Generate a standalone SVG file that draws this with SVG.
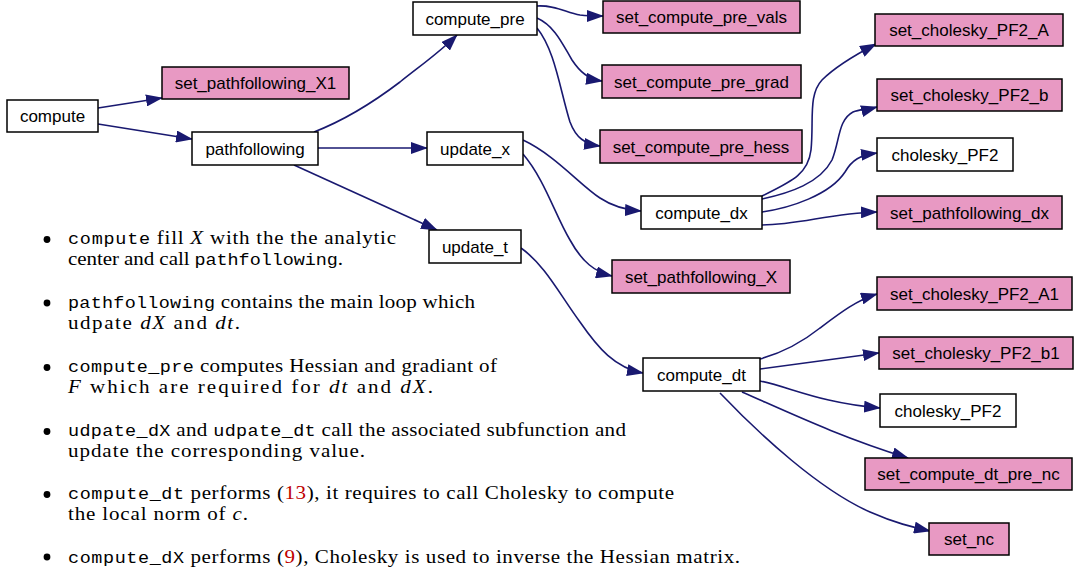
<svg xmlns="http://www.w3.org/2000/svg" width="1074" height="571" viewBox="0 0 1074 571">
<style>
.n rect{fill:#ffffff;stroke:#000000;stroke-width:1.5}
.p rect{fill:#e899c3;stroke:#000000;stroke-width:1.5}
.n text,.p text{font-family:"Liberation Sans",Arial,sans-serif;font-size:17px;fill:#000;text-anchor:middle}
#edges path{fill:none;stroke:#191970;stroke-width:1.6;marker-end:url(#ah)}
.t{font-family:"Liberation Serif","Times New Roman",serif;font-size:18.8px;fill:#000}
.m{font-family:"Liberation Mono","Courier New",monospace;font-size:16.5px}
.i{font-style:italic}
.r{fill:#c00000}
.b{fill:#000}
</style>
<defs>
<marker id="ah" markerUnits="userSpaceOnUse" markerWidth="17" markerHeight="12" refX="16" refY="6" orient="auto" viewBox="0 0 17 12">
<path d="M0,0 L17,6 L0,12 Z" fill="#191970"/>
</marker>
</defs>
<g id="edges">
<path d="M98,108 L162,98"/>
<path d="M98,124 L192,139"/>
<path d="M314,132 C345,120 375,101 400,82 C420,66 440,52 457,35"/>
<path d="M318,148 L427,148"/>
<path d="M294,165 L437,230"/>
<path d="M537,6 C555,5 565,12 580,15 C588,16 595,16 603,16"/>
<path d="M537,18 C555,26 563,45 572,60 C580,72 588,79 602,81"/>
<path d="M537,28 C555,50 560,90 570,122 C576,138 585,144 600,146"/>
<path d="M523,140 C555,155 580,185 600,198 C612,206 625,210 641,211"/>
<path d="M523,154 C545,180 555,215 570,240 C582,262 595,272 612,276"/>
<path d="M521,248 C545,265 560,295 580,322 C598,348 615,368 643,373"/>
<path d="M762,196 C790,182 808,175 811,150 C814,120 808,95 822,80 C836,66 855,55 876,44"/>
<path d="M762,199 C790,193 820,183 832,160 C840,140 838,120 853,112 C860,109 866,110 877,107"/>
<path d="M762,212 C790,208 830,195 845,172 C852,160 860,155 877,153"/>
<path d="M762,225 C800,225 830,213 877,212"/>
<path d="M760,359 C785,352 805,340 820,328 C840,313 857,300 877,294"/>
<path d="M760,369 L879,353"/>
<path d="M760,381 C790,387 820,403 880,408"/>
<path d="M742,392 C790,413 840,437 908,458"/>
<path d="M720,393 C760,435 820,490 870,512 C895,523 912,527 930,531"/>
</g>
<g id="node-compute" class="n"><rect x="7" y="100" width="91" height="32"/><text x="52.5" y="122">compute</text></g>
<g id="node-set_pathfollowing_X1" class="p"><rect x="162" y="67" width="187" height="32"/><text x="255.5" y="89">set_pathfollowing_X1</text></g>
<g id="node-pathfollowing" class="n"><rect x="192" y="132" width="126" height="33"/><text x="255" y="154.5">pathfollowing</text></g>
<g id="node-compute_pre" class="n"><rect x="413" y="2" width="124" height="33"/><text x="475" y="24.5">compute_pre</text></g>
<g id="node-update_x" class="n"><rect x="427" y="132" width="96" height="33"/><text x="475" y="154.5">update_x</text></g>
<g id="node-update_t" class="n"><rect x="429" y="230" width="92" height="33"/><text x="475" y="252.5">update_t</text></g>
<g id="node-set_compute_pre_vals" class="p"><rect x="603" y="1" width="197" height="32"/><text x="701.5" y="23">set_compute_pre_vals</text></g>
<g id="node-set_compute_pre_grad" class="p"><rect x="602" y="65" width="199" height="33"/><text x="701.5" y="87.5">set_compute_pre_grad</text></g>
<g id="node-set_compute_pre_hess" class="p"><rect x="600" y="130" width="202" height="33"/><text x="701" y="152.5">set_compute_pre_hess</text></g>
<g id="node-compute_dx" class="n"><rect x="641" y="196" width="121" height="33"/><text x="701.5" y="218.5">compute_dx</text></g>
<g id="node-set_pathfollowing_X" class="p"><rect x="612" y="260" width="178" height="33"/><text x="701" y="282.5">set_pathfollowing_X</text></g>
<g id="node-compute_dt" class="n"><rect x="643" y="358" width="117" height="33"/><text x="701.5" y="380.5">compute_dt</text></g>
<g id="node-set_cholesky_PF2_A" class="p"><rect x="875" y="14" width="188" height="32"/><text x="969" y="36">set_cholesky_PF2_A</text></g>
<g id="node-set_cholesky_PF2_b" class="p"><rect x="877" y="79" width="185" height="32"/><text x="969.5" y="101">set_cholesky_PF2_b</text></g>
<g id="node-cholesky_PF2_a" class="n"><rect x="877" y="138" width="136" height="33"/><text x="945" y="160.5">cholesky_PF2</text></g>
<g id="node-set_pathfollowing_dx" class="p"><rect x="877" y="196" width="185" height="33"/><text x="969.5" y="218.5">set_pathfollowing_dx</text></g>
<g id="node-set_cholesky_PF2_A1" class="p"><rect x="877" y="277" width="195" height="33"/><text x="974.5" y="299.5">set_cholesky_PF2_A1</text></g>
<g id="node-set_cholesky_PF2_b1" class="p"><rect x="879" y="337" width="194" height="32"/><text x="976" y="359">set_cholesky_PF2_b1</text></g>
<g id="node-cholesky_PF2_b" class="n"><rect x="880" y="394" width="136" height="33"/><text x="948" y="416.5">cholesky_PF2</text></g>
<g id="node-set_compute_dt_pre_nc" class="p"><rect x="865" y="458" width="207" height="32"/><text x="968.5" y="480">set_compute_dt_pre_nc</text></g>
<g id="node-set_nc" class="p"><rect x="929" y="523" width="80" height="32"/><text x="969" y="545">set_nc</text></g>
<g id="notes">
<circle class="b" cx="47" cy="239.5" r="3.4"/>
<circle class="b" cx="47" cy="303" r="3.4"/>
<circle class="b" cx="47" cy="367.5" r="3.4"/>
<circle class="b" cx="47" cy="431.5" r="3.4"/>
<circle class="b" cx="47" cy="494.5" r="3.4"/>
<circle class="b" cx="47" cy="557" r="3.4"/>
<text class="t" transform="translate(68,244) scale(1.12,1)" textLength="292.9" lengthAdjust="spacing"><tspan class="m">compute</tspan> fill <tspan class="i">X</tspan> with the the analytic</text>
<text class="t" transform="translate(68,265) scale(1.12,1)" textLength="245.5" lengthAdjust="spacing">center and call <tspan class="m">pathfollowing</tspan>.</text>
<text class="t" transform="translate(68,308) scale(1.12,1)" textLength="363.4" lengthAdjust="spacing"><tspan class="m">pathfollowing</tspan> contains the main loop which</text>
<text class="t" transform="translate(68,329) scale(1.12,1)" textLength="153.6" lengthAdjust="spacing">udpate <tspan class="i">dX</tspan> and <tspan class="i">dt</tspan>.</text>
<text class="t" transform="translate(68,372) scale(1.12,1)" textLength="383" lengthAdjust="spacing"><tspan class="m">compute_pre</tspan> computes Hessian and gradiant of</text>
<text class="t" transform="translate(68,393) scale(1.12,1)" textLength="325.9" lengthAdjust="spacing"><tspan class="i">F</tspan> which are required for <tspan class="i">dt</tspan> and <tspan class="i">dX</tspan>.</text>
<text class="t" transform="translate(68,436) scale(1.12,1)" textLength="498.2" lengthAdjust="spacing"><tspan class="m">udpate_dX</tspan> and <tspan class="m">udpate_dt</tspan> call the associated subfunction and</text>
<text class="t" transform="translate(68,457) scale(1.12,1)" textLength="265.2" lengthAdjust="spacing">update the corresponding value.</text>
<text class="t" transform="translate(68,499) scale(1.12,1)" textLength="541.1" lengthAdjust="spacing"><tspan class="m">compute_dt</tspan> performs (<tspan class="r">13</tspan>), it requires to call Cholesky to compute</text>
<text class="t" transform="translate(68,520) scale(1.12,1)" textLength="160.7" lengthAdjust="spacing">the local norm of <tspan class="i">c</tspan>.</text>
<text class="t" transform="translate(68,563) scale(1.12,1)" textLength="600" lengthAdjust="spacing"><tspan class="m">compute_dX</tspan> performs (<tspan class="r">9</tspan>), Cholesky is used to inverse the Hessian matrix.</text>
</g>
</svg>
